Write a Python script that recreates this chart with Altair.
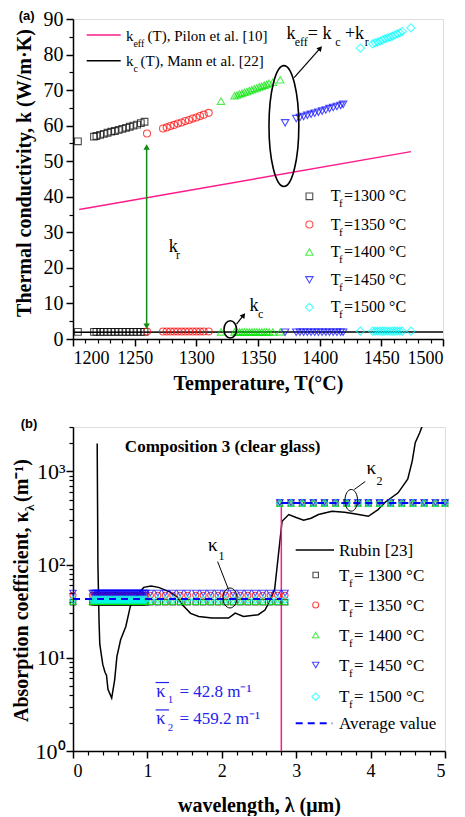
import altair as alt
import pandas as pd

SERIF = "Liberation Serif, Times New Roman, Times, serif"
SANS = "Liberation Sans, Arial, sans-serif"

# ---------------- shared series definitions ----------------
series = ["1300", "1350", "1400", "1450", "1500"]
series_colors = ["#000000", "#ff0000", "#00e600", "#0000ff", "#00ffff"]
series_shapes = ["square", "circle", "triangle-up", "triangle-down", "diamond"]
legend_a_text = ["=1300 °C", "=1350 °C", "=1400 °C", "=1450 °C", "=1500 °C"]
legend_b_text = ["= 1300 °C", "= 1350 °C", "= 1400 °C", "= 1450 °C", "= 1500 °C"]

# ---------------- panel (a): thermal conductivity ----------------
T_1300 = [1204, 1217, 1219, 1222, 1225, 1228, 1231, 1234, 1237, 1240, 1243, 1246, 1249, 1252, 1255, 1258]
keff_1300 = [55.6, 56.9, 57.1, 57.4, 57.7, 58.0, 58.3, 58.5, 58.8, 59.1, 59.4, 59.7, 60.0, 60.3, 60.7, 61.1]
kc_1300 = [2.0, 2.0, 2.0, 2.0, 2.0, 2.0, 2.0, 2.0, 2.0, 2.0, 2.0, 2.0, 2.0, 2.0, 2.0, 2.0]

T_1350 = [1260, 1273, 1276, 1279, 1282, 1285, 1288, 1291, 1294, 1297, 1300, 1303, 1306, 1310]
keff_1350 = [57.8, 59.2, 59.5, 59.9, 60.2, 60.6, 60.9, 61.3, 61.6, 62.0, 62.3, 62.7, 63.1, 63.6]
kc_1350 = [2.1, 2.1, 2.1, 2.1, 2.1, 2.1, 2.1, 2.1, 2.1, 2.1, 2.1, 2.1, 2.1, 2.1]

T_1400 = [1320, 1331, 1333, 1335, 1337, 1339, 1341, 1343, 1345, 1347, 1349, 1351, 1353, 1355, 1357, 1359, 1362, 1368]
keff_1400 = [66.9, 68.4, 68.6, 68.9, 69.1, 69.4, 69.6, 69.9, 70.1, 70.4, 70.6, 70.9, 71.1, 71.4, 71.6, 71.9, 72.2, 72.9]
kc_1400 = [2.0, 2.0, 2.0, 2.0, 2.0, 2.0, 2.0, 2.0, 2.0, 2.0, 2.0, 2.0, 2.0, 2.0, 2.0, 2.0, 2.0, 2.0]

T_1450 = [1372, 1381, 1384, 1387, 1390, 1393, 1396, 1399, 1402, 1405, 1408, 1411, 1414, 1417, 1419]
keff_1450 = [60.8, 62.0, 62.3, 62.6, 62.9, 63.2, 63.5, 63.8, 64.1, 64.4, 64.8, 65.1, 65.4, 65.7, 66.0]
kc_1450 = [1.9, 1.9, 1.9, 1.9, 1.9, 1.9, 1.9, 1.9, 1.9, 1.9, 1.9, 1.9, 1.9, 1.9, 1.9]

T_1500 = [1433, 1443, 1445, 1447, 1449, 1451, 1453, 1455, 1457, 1459, 1461, 1463, 1465, 1467, 1474]
keff_1500 = [81.8, 83.0, 83.3, 83.5, 83.8, 84.1, 84.4, 84.7, 84.9, 85.2, 85.5, 85.8, 86.1, 86.5, 87.5]
kc_1500 = [2.2, 2.2, 2.2, 2.2, 2.2, 2.2, 2.2, 2.2, 2.2, 2.2, 2.2, 2.2, 2.2, 2.2, 2.2]

pilon_T = [1205, 1474]
pilon_k = [36.4, 52.7]
mann_T = [1200, 1500]
mann_k = [1.9, 2.0]

xa_major = [1200, 1250, 1300, 1350, 1400, 1450, 1500]
xa_minor = [1210, 1220, 1230, 1240, 1260, 1270, 1280, 1290, 1310, 1320, 1330, 1340,
            1360, 1370, 1380, 1390, 1410, 1420, 1430, 1440, 1460, 1470, 1480, 1490]
ya_major = [0, 10, 20, 30, 40, 50, 60, 70, 80, 90]
ya_minor = [5, 15, 25, 35, 45, 55, 65, 75, 85]

# ---------------- panel (b): absorption coefficient ----------------
rubin_wl = [0.325, 0.335, 0.35, 0.36, 0.40, 0.43, 0.45, 0.47, 0.52, 0.56, 0.59, 0.64, 0.71, 0.77,
            0.85, 0.95, 1.05, 1.15, 1.30, 1.40, 1.47, 1.58, 1.69, 1.87, 2.09, 2.14, 2.18, 2.29,
            2.49, 2.58, 2.63, 2.67, 2.71, 2.81, 2.90, 3.00, 3.10, 3.20, 3.30, 3.48, 3.65, 3.80,
            3.97, 4.10, 4.20, 4.37, 4.50, 4.56, 4.60, 4.66, 4.72]
rubin_kappa = [2000, 100, 25, 14, 8.5, 7.0, 6.5, 4.6, 3.7, 5.8, 10.3, 15.6, 21.7, 35.6,
               46, 57, 59, 57, 51, 45, 37, 30, 27.8, 26.7, 26.7, 28.5, 30.2, 27.8,
               29, 32.6, 38.6, 45.6, 54, 292, 345, 320, 299, 315, 345, 375, 365, 350,
               330, 390, 470, 590, 830, 1300, 2040, 2600, 3500]

k1_wl = [0.0, 0.26, 0.28, 0.30, 0.32, 0.34, 0.36, 0.38, 0.40, 0.42, 0.44, 0.46, 0.48, 0.50,
         0.52, 0.54, 0.56, 0.58, 0.60, 0.62, 0.64, 0.66, 0.68, 0.70, 0.72, 0.74, 0.76, 0.78,
         0.80, 0.82, 0.84, 0.86, 0.88, 0.90, 0.92, 0.94, 0.96, 0.98,
         1.04, 1.14, 1.24, 1.34, 1.44, 1.54, 1.65, 1.75, 1.85, 1.95, 2.05, 2.15, 2.25,
         2.35, 2.45, 2.55, 2.65, 2.75, 2.85]
k2_wl = [2.78, 2.93, 3.08, 3.23, 3.38, 3.53, 3.68, 3.83, 3.97, 4.12, 4.27, 4.42, 4.57, 4.72, 4.87, 5.0]
kappa1_vals = [39.5, 47.0, 40.0, 49.5, 42.0]
kappa2_vals = [455, 463, 452, 466, 459]
avg_x0 = [0.0, 2.8]
avg_x1 = [2.8, 5.0]
avg_vals = [42.8, 459.2]
cut_wl = [2.8]

xb_major = [0, 1, 2, 3, 4, 5]
xb_minor = [0.2, 0.4, 0.6, 0.8, 1.2, 1.4, 1.6, 1.8, 2.2, 2.4, 2.6, 2.8, 3.2, 3.4, 3.6, 3.8,
            4.2, 4.4, 4.6, 4.8]
yb_major = [1, 10, 100, 1000]
yb_minor = [2, 3, 4, 5, 6, 7, 8, 9, 20, 30, 40, 50, 60, 70, 80, 90,
            200, 300, 400, 500, 600, 700, 800, 900, 2000, 3000]

# ---------------- tables ----------------
rows = []
for s, T, ke, kc in zip(series, [T_1300, T_1350, T_1400, T_1450, T_1500],
                        [keff_1300, keff_1350, keff_1400, keff_1450, keff_1500],
                        [kc_1300, kc_1350, kc_1400, kc_1450, kc_1500]):
    for t, a, b in zip(T, ke, kc):
        rows.append({"T": t, "k": a, "s": s})
        rows.append({"T": t, "k": b, "s": s})
df_a = pd.DataFrame(rows)

rows = []
for i, s in enumerate(series):
    for w in k1_wl:
        rows.append({"wl": w, "kap": kappa1_vals[i], "s": s})
    for w in k2_wl:
        rows.append({"wl": w, "kap": kappa2_vals[i], "s": s})
df_b = pd.DataFrame(rows)

shape_scale = alt.Scale(domain=series, range=series_shapes)
color_scale = alt.Scale(domain=series, range=series_colors)

AX = dict(grid=False, domainColor="black", domainWidth=1.5, tickColor="black", tickWidth=1.5,
          labelFont=SERIF, labelColor="black", titleFont=SERIF, titleColor="black",
          titleFontWeight="bold")
MINOR = dict(grid=False, labels=False, domain=False, title=None, tickColor="black",
             tickWidth=1.2, tickSize=4)


def ellipse_path(rx):
    k = 0.5523
    a = round(k * rx, 4)
    return (f"M 0 -1 C {a} -1 {rx} -{k} {rx} 0 C {rx} {k} {a} 1 0 1 "
            f"C -{a} 1 -{rx} {k} -{rx} 0 C -{rx} -{k} -{a} -1 0 -1 Z")


def px_text(df, weight="normal", font=SERIF, align="left", baseline="alphabetic", angle=0):
    return alt.Chart(df).mark_text(font=font, fontWeight=weight, align=align,
                                   baseline=baseline, angle=angle).encode(
        x=alt.X("px:Q", scale=None, axis=None),
        y=alt.Y("py:Q", scale=None, axis=None),
        text="t:N",
        size=alt.Size("fs:Q", scale=None),
        color=alt.Color("c:N", scale=None))


def data_text(df, xs, ys, weight="normal"):
    return alt.Chart(df).mark_text(font=SERIF, fontWeight=weight, align="left",
                                   baseline="alphabetic").encode(
        x=alt.X("x:Q", scale=xs, axis=None),
        y=alt.Y("y:Q", scale=ys, axis=None),
        text="t:N",
        size=alt.Size("fs:Q", scale=None),
        color=alt.Color("c:N", scale=None))


# ================= panel (a) =================
H_A = 320
xa = alt.Scale(domain=[1200, 1500], nice=False, zero=False)
ya = alt.Scale(domain=[0, 90], nice=False)
ax_xa = alt.Axis(values=xa_major, orient="bottom", tickSize=7, labelFontSize=18, labelPadding=3,
                 format="d", title="Temperature, T(°C)", titleFontSize=20, titlePadding=6, **AX)
ax_ya = alt.Axis(values=ya_major, orient="left", tickSize=7, labelFontSize=20, labelPadding=3,
                 title=None, **AX)

pilon_df = pd.DataFrame({"T": pilon_T, "k": pilon_k})
mann_df = pd.DataFrame({"T": mann_T, "k": mann_k})

a_pilon = alt.Chart(pilon_df).mark_line(color="#ff1a8c", strokeWidth=1.5).encode(
    x=alt.X("T:Q", scale=xa, axis=ax_xa), y=alt.Y("k:Q", scale=ya, axis=ax_ya))
a_minor = alt.Chart(pilon_df).mark_point(opacity=0).encode(
    x=alt.X("T:Q", scale=xa, axis=alt.Axis(values=xa_minor, orient="bottom", **MINOR)),
    y=alt.Y("k:Q", scale=ya, axis=alt.Axis(values=ya_minor, orient="left", **MINOR)))
a_mann = alt.Chart(mann_df).mark_line(color="black", strokeWidth=1.5).encode(
    x=alt.X("T:Q", scale=xa, axis=None), y=alt.Y("k:Q", scale=ya, axis=None))

SZ_A = [45, 50, 55, 55, 65]
a_pts = []
for s, sz in zip(series, SZ_A):
    a_pts.append(alt.Chart(df_a[df_a.s == s]).mark_point(filled=False, strokeWidth=1.1, size=sz).encode(
        x=alt.X("T:Q", scale=xa, axis=None), y=alt.Y("k:Q", scale=ya, axis=None),
        shape=alt.Shape("s:N", scale=shape_scale, legend=None),
        color=alt.Color("s:N", scale=color_scale, legend=None)))

# green double arrow (k_r)
kr_df = pd.DataFrame({"x0": [1259.7], "y0": [4.2], "y1": [54.0]})
a_kr = alt.Chart(kr_df).mark_rule(color="#128a12", strokeWidth=1.5).encode(
    x=alt.X("x0:Q", scale=xa, axis=None), y=alt.Y("y0:Q", scale=ya, axis=None), y2="y1:Q")
kr_heads = pd.DataFrame({"x": [1259.7, 1259.7], "y": [54.0, 3.6],
                         "shp": ["triangle-up", "triangle-down"]})
a_kr_h = alt.Chart(kr_heads).mark_point(filled=True, color="#128a12", size=40, opacity=1).encode(
    x=alt.X("x:Q", scale=xa, axis=None), y=alt.Y("y:Q", scale=ya, axis=None),
    shape=alt.Shape("shp:N", scale=None))

# ellipses
ell_a = pd.DataFrame({"x": [1371.0, 1327.5], "y": [59.9, 2.7],
                      "shp": [ellipse_path(0.247), ellipse_path(0.724)], "sz": [14600, 300]})
a_ell = alt.Chart(ell_a).mark_point(filled=False, color="black", strokeWidth=1.6, opacity=1).encode(
    x=alt.X("x:Q", scale=xa, axis=None), y=alt.Y("y:Q", scale=ya, axis=None),
    shape=alt.Shape("shp:N", scale=None), size=alt.Size("sz:Q", scale=None))

# arrows
arr_a = pd.DataFrame({"x0": [1379.3, 1332.6], "y0": [73.5, 4.2], "x1": [1400.5, 1338.3], "y1": [81.8, 6.7]})
a_arr = alt.Chart(arr_a).mark_rule(color="black", strokeWidth=1.2).encode(
    x=alt.X("x0:Q", scale=xa, axis=None), y=alt.Y("y0:Q", scale=ya, axis=None), x2="x1:Q", y2="y1:Q")
arr_a_h = pd.DataFrame({"x": [1400.5, 1338.3], "y": [81.8, 6.7], "ang": [41, 38]})
a_arr_h = alt.Chart(arr_a_h).mark_point(filled=True, color="black", shape="triangle-up", size=35,
                                        opacity=1).encode(
    x=alt.X("x:Q", scale=xa, axis=None), y=alt.Y("y:Q", scale=ya, axis=None),
    angle=alt.Angle("ang:Q", scale=None))

# annotation text in data coordinates
ann_a = pd.DataFrame({
    "x": [1373.1, 1379.8, 1390.4, 1412.7, 1420.5, 1436.5, 1277.6, 1283.6, 1343.2, 1350.0],
    "y": [84.4, 82.3, 84.4, 82.3, 84.4, 82.3, 24.5, 22.6, 7.9, 5.8],
    "t": ["k", "eff", "= k", "c", "+k", "r", "k", "r", "k", "c"],
    "fs": [18, 12, 18, 12, 18, 12, 18, 12, 18, 12],
    "c": ["black"] * 10})
a_ann = data_text(ann_a, xa, ya)

# legend (top-left lines)
a_leg_l1 = alt.Chart(pilon_df.head(1)).mark_rule(color="#ff1a8c", strokeWidth=1.5).encode(
    x=alt.value(13.7), x2=alt.value(47.7), y=alt.value(16))
a_leg_l2 = alt.Chart(pilon_df.head(1)).mark_rule(color="black", strokeWidth=1.5).encode(
    x=alt.value(13.7), x2=alt.value(47.7), y=alt.value(41.7))
leg_a_txt = pd.DataFrame({
    "px": [53, 60.4, 74.5, 53, 60.4, 67.5],
    "py": [22, 28, 22, 47, 53, 47],
    "t": ["k", "eff", "(T), Pilon et al. [10]", "k", "c", "(T), Mann et al. [22]"],
    "fs": [15, 10, 15, 15, 10, 15],
    "c": ["black"] * 6})
a_leg_t = px_text(leg_a_txt)

rowc_a = [177.3, 205.5, 233, 260.8, 288.3]
leg_a_sym = pd.DataFrame({"px": [236.4] * 5, "py": rowc_a, "s": series})
a_leg_sym = []
for s, sz in zip(series, SZ_A):
    a_leg_sym.append(alt.Chart(leg_a_sym[leg_a_sym.s == s]).mark_point(filled=False, strokeWidth=1.1,
                                                                     size=sz).encode(
        x=alt.X("px:Q", scale=None, axis=None), y=alt.Y("py:Q", scale=None, axis=None),
        shape=alt.Shape("s:N", scale=shape_scale, legend=None),
        color=alt.Color("s:N", scale=color_scale, legend=None)))
tx, ty, tt, tf = [], [], [], []
for c, lab in zip(rowc_a, legend_a_text):
    tx += [257.7, 266.0, 271.0]
    ty += [c + 5, c + 11, c + 5]
    tt += ["T", "f", lab]
    tf += [16, 11, 16]
a_leg_t2 = px_text(pd.DataFrame({"px": tx, "py": ty, "t": tt, "fs": tf, "c": ["black"] * len(tx)}))

a_title = px_text(pd.DataFrame({"px": [-48.3], "py": [154], "t": ["Thermal conductivity, k (W/m·K)"],
                                "fs": [20], "c": ["black"]}),
                  weight="bold", align="center", baseline="middle", angle=270)
a_tag = px_text(pd.DataFrame({"px": [-54.3], "py": [-9], "t": ["(a)"], "fs": [13], "c": ["black"]}),
                weight="bold", font=SANS, baseline="top")

top = alt.layer(a_pilon, a_minor, a_mann, *a_pts, a_kr, a_kr_h, a_ell, a_arr, a_arr_h, a_ann,
                a_leg_l1, a_leg_l2, a_leg_t, *a_leg_sym, a_leg_t2, a_title, a_tag).resolve_axis(
    x="independent", y="independent").properties(width=370, height=H_A)

# ================= panel (b) =================
xb = alt.Scale(domain=[0, 5], nice=False, zero=False)
yb = alt.Scale(type="log", domain=[1, 3000], nice=False)
ax_xb = alt.Axis(values=xb_major, orient="bottom", tickSize=7, labelFontSize=18, labelPadding=4,
                 format="d", title="wavelength, λ (μm)", titleFontSize=20, titlePadding=15, **AX)
ax_yb = alt.Axis(values=yb_major, orient="left", tickSize=7, labelFontSize=22, labelPadding=1,
                 labelExpr="datum.value == 1 ? '10⁰' : datum.value == 10 ? '10¹' : "
                           "datum.value == 100 ? '10²' : '10³'",
                 title=None, **AX)

rubin_df = pd.DataFrame({"wl": rubin_wl, "kap": rubin_kappa})
b_rubin = alt.Chart(rubin_df).mark_line(color="black", strokeWidth=1.5, clip=True).encode(
    x=alt.X("wl:Q", scale=xb, axis=ax_xb), y=alt.Y("kap:Q", scale=yb, axis=ax_yb))
b_minor = alt.Chart(rubin_df).mark_point(opacity=0).encode(
    x=alt.X("wl:Q", scale=xb, axis=alt.Axis(values=xb_minor, orient="bottom", **MINOR)),
    y=alt.Y("kap:Q", scale=yb, axis=alt.Axis(values=yb_minor, orient="left", **MINOR)))

cut_df = pd.DataFrame({"x": cut_wl, "y0": [1.0], "y1": [avg_vals[1]]})
b_cut = alt.Chart(cut_df).mark_rule(color="#ff1a8c", strokeWidth=1.5).encode(
    x=alt.X("x:Q", scale=xb, axis=None), y=alt.Y("y0:Q", scale=yb, axis=None), y2="y1:Q")

SZ_B = [30, 36, 40, 42, 55]
b_pts = []
for s, sz in zip(series, SZ_B):
    b_pts.append(alt.Chart(df_b[df_b.s == s]).mark_point(filled=False, strokeWidth=1.1, size=sz).encode(
        x=alt.X("wl:Q", scale=xb, axis=None), y=alt.Y("kap:Q", scale=yb, axis=None),
        shape=alt.Shape("s:N", scale=shape_scale, legend=None),
        color=alt.Color("s:N", scale=color_scale, legend=None)))

avg_df = pd.DataFrame({"x0": avg_x0, "x1": avg_x1, "v": avg_vals})
b_avg = alt.Chart(avg_df).mark_rule(color="#0000ff", strokeWidth=2, strokeDash=[7, 5]).encode(
    x=alt.X("x0:Q", scale=xb, axis=None), x2="x1:Q", y=alt.Y("v:Q", scale=yb, axis=None))

ell_b = pd.DataFrame({"x": [2.11, 3.74], "y": [43.9, 490.0],
                      "shp": [ellipse_path(0.7), ellipse_path(0.58)], "sz": [400, 471]})
b_ell = alt.Chart(ell_b).mark_point(filled=False, color="black", strokeWidth=1.0, opacity=1).encode(
    x=alt.X("x:Q", scale=xb, axis=None), y=alt.Y("y:Q", scale=yb, axis=None),
    shape=alt.Shape("shp:N", scale=None), size=alt.Size("sz:Q", scale=None))
lead_b = pd.DataFrame({"x0": [1.944, 3.928], "y0": [107.7, 780.0], "x1": [2.091, 3.780], "y1": [53.9, 640.0]})
b_lead = alt.Chart(lead_b).mark_rule(color="black", strokeWidth=1.0).encode(
    x=alt.X("x0:Q", scale=xb, axis=None), y=alt.Y("y0:Q", scale=yb, axis=None), x2="x1:Q", y2="y1:Q")

ann_b = pd.DataFrame({
    "x": [1.814, 1.957, 3.945, 4.079, 1.120, 1.275, 1.43, 1.120, 1.275, 1.43],
    "y": [139, 113, 929, 707, 3.81, 3.28, 3.81, 1.95, 1.64, 1.95],
    "t": ["κ", "1", "κ", "2", "κ", "1", "= 42.8 m⁻¹", "κ", "2", "= 459.2 m⁻¹"],
    "fs": [19, 12, 19, 12, 18, 11, 17, 18, 11, 17],
    "c": ["black", "black", "black", "black", "#2222ee", "#2222ee", "#2222ee", "#2222ee",
          "#2222ee", "#2222ee"]})
b_ann = data_text(ann_b, xb, yb)
bar_b = pd.DataFrame({"x0": [1.11, 1.11], "x1": [1.29, 1.29], "y": [5.43, 2.76]})
b_bar = alt.Chart(bar_b).mark_rule(color="#2222ee", strokeWidth=1.2).encode(
    x=alt.X("x0:Q", scale=xb, axis=None), x2="x1:Q", y=alt.Y("y:Q", scale=yb, axis=None))
comp_df = pd.DataFrame({"x": [0.697], "y": [1614], "t": ["Composition 3 (clear glass)"], "fs": [17],
                        "c": ["black"]})
b_comp = data_text(comp_df, xb, yb, weight="bold")

# legend (b)
b_leg_l1 = alt.Chart(rubin_df.head(1)).mark_rule(color="black", strokeWidth=1.5).encode(
    x=alt.value(222.7), x2=alt.value(261), y=alt.value(123))
b_leg_l2 = alt.Chart(rubin_df.head(1)).mark_rule(color="#0000ff", strokeWidth=2,
                                                 strokeDash=[7, 5]).encode(
    x=alt.value(222.7), x2=alt.value(259.3), y=alt.value(296.3))
rowc_b = [148, 178, 208, 238, 269.7]
leg_b_sym = pd.DataFrame({"px": [242.7] * 5, "py": rowc_b, "s": series})
b_leg_sym = []
for s, sz in zip(series, SZ_B):
    b_leg_sym.append(alt.Chart(leg_b_sym[leg_b_sym.s == s]).mark_point(filled=False, strokeWidth=1.1,
                                                                     size=sz).encode(
        x=alt.X("px:Q", scale=None, axis=None), y=alt.Y("py:Q", scale=None, axis=None),
        shape=alt.Shape("s:N", scale=shape_scale, legend=None),
        color=alt.Color("s:N", scale=color_scale, legend=None)))
tx, ty, tt, tf = [266], [129], ["Rubin [23]"], [17]
for c, lab in zip(rowc_b, legend_b_text):
    tx += [266, 276, 281]
    ty += [c + 5.5, c + 11.5, c + 5.5]
    tt += ["T", "f", lab]
    tf += [17, 11, 17]
tx += [266]
ty += [302]
tt += ["Average value"]
tf += [17]
b_leg_t = px_text(pd.DataFrame({"px": tx, "py": ty, "t": tt, "fs": tf, "c": ["black"] * len(tx)}))

b_title = px_text(pd.DataFrame({"px": [-51, -43, -51], "py": [295, 84, 75],
                                "t": ["Absorption coefficient, κ", "λ", "(m⁻¹)"],
                                "fs": [20, 13, 20], "c": ["black"] * 3}),
                  weight="bold", align="left", baseline="middle", angle=270)
b_tag = px_text(pd.DataFrame({"px": [-52.3], "py": [-9], "t": ["(b)"], "fs": [13], "c": ["black"]}),
                weight="bold", font=SANS, baseline="top")

bottom = alt.layer(b_rubin, b_minor, b_cut, *b_pts, b_avg, b_ell, b_lead, b_ann, b_bar, b_comp,
                   b_leg_l1, b_leg_l2, *b_leg_sym, b_leg_t, b_title, b_tag).resolve_axis(
    x="independent", y="independent").properties(width=372, height=324)

chart = alt.vconcat(top, bottom, spacing=88, bounds="flush").properties(
    padding={"left": 3, "top": 0, "right": 0, "bottom": 0}
).configure_view(stroke="black", strokeWidth=1.5).configure(background="white")

chart.save("out.html", embed_options={"renderer": "svg", "actions": False})
